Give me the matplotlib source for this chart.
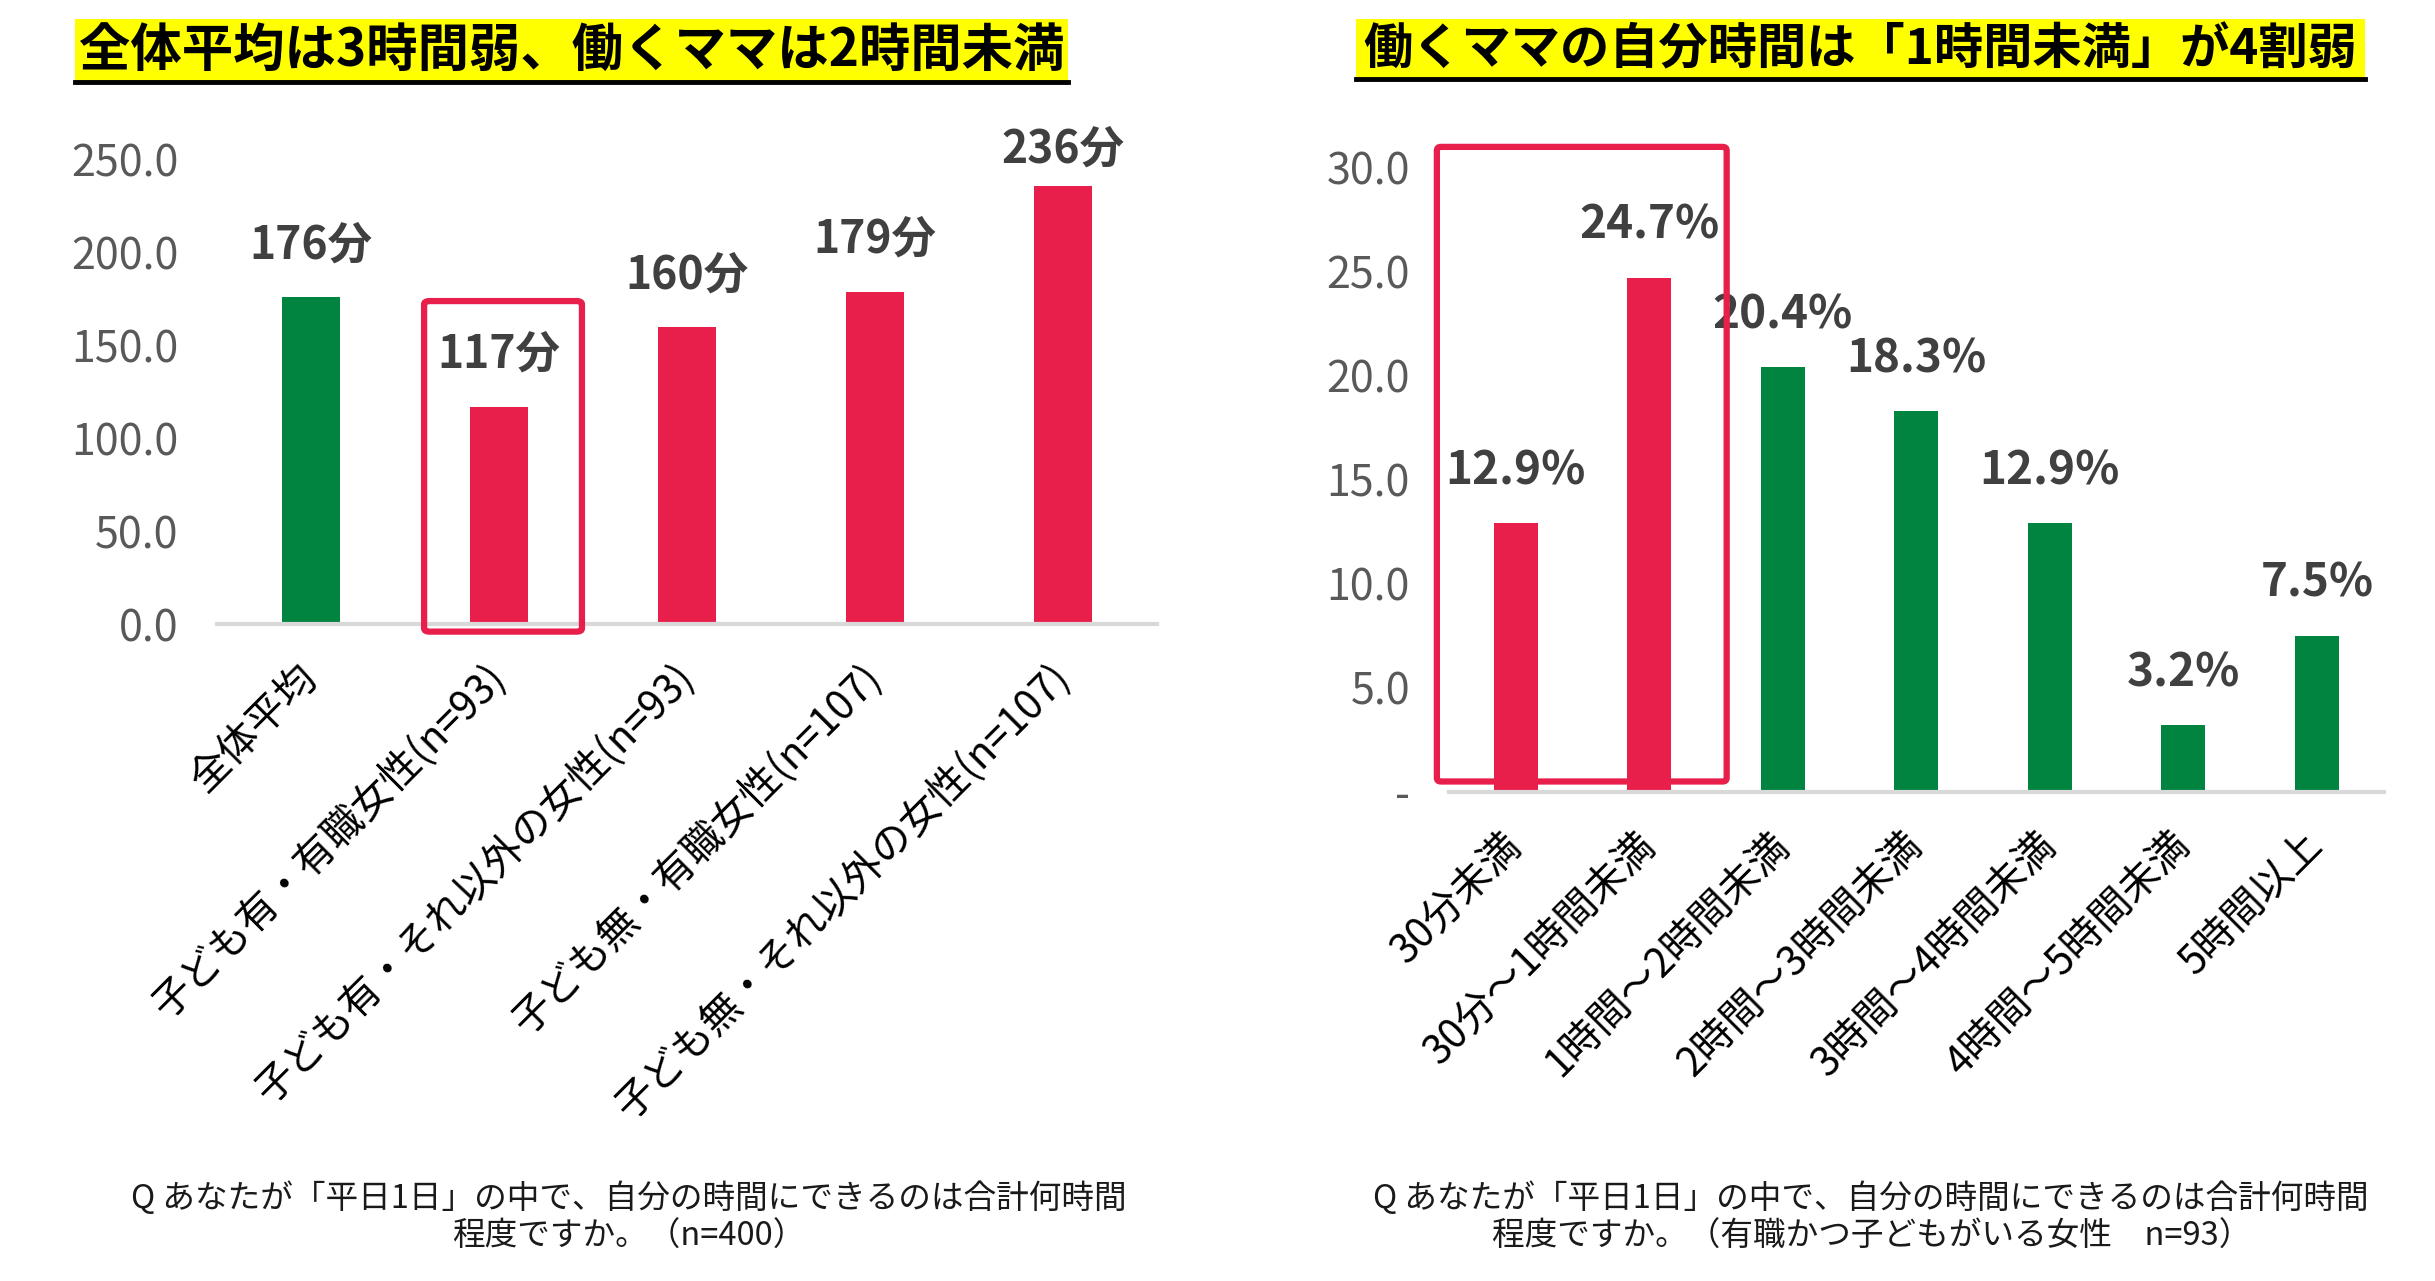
import matplotlib.pyplot as plt
from matplotlib.patches import FancyBboxPatch, Rectangle
import numpy as np

plt.rcParams['font.family'] = ['Noto Sans CJK JP', 'DejaVu Sans']

GREEN = '#00843F'
RED = '#E81E4B'

# 左グラフ: 平日1日の自分時間(分)
left_title = '全体平均は3時間弱、働くママは2時間未満'
left_labels = ['全体平均', '子ども有・有職女性(n=93)', '子ども有・それ以外の女性(n=93)',
               '子ども無・有職女性(n=107)', '子ども無・それ以外の女性(n=107)']
left_values = [176, 117, 160, 179, 236]
left_colors = [GREEN, RED, RED, RED, RED]
left_ticks = [0, 50, 100, 150, 200, 250]
left_note = 'Q あなたが「平日1日」の中で、自分の時間にできるのは合計何時間\n程度ですか。（n=400）'

# 右グラフ: 働くママの自分時間の分布(%)
right_title = '働くママの自分時間は「1時間未満」が4割弱'
right_labels = ['30分未満', '30分～1時間未満', '1時間～2時間未満', '2時間～3時間未満',
                '3時間～4時間未満', '4時間～5時間未満', '5時間以上']
right_values = [12.9, 24.7, 20.4, 18.3, 12.9, 3.2, 7.5]
right_colors = [RED, RED, GREEN, GREEN, GREEN, GREEN, GREEN]
right_ticks = [0, 5, 10, 15, 20, 25, 30]
right_note = 'Q あなたが「平日1日」の中で、自分の時間にできるのは合計何時間\n程度ですか。（有職かつ子どもがいる女性　n=93）'

fig = plt.figure(figsize=(24.35, 12.81), dpi=100)
fig.patch.set_facecolor('white')

# 縮小画像(1568x825)上の座標を図の割合に変換
def fx(x):
    return x / 1568

def fy(y):
    return 1 - y / 825


def style_axis(ax, ticks, ticklabels, labels):
    for s in ['top', 'right', 'left']:
        ax.spines[s].set_visible(False)
    ax.spines['bottom'].set_color('#D9D9D9')
    ax.spines['bottom'].set_linewidth(3)
    ax.set_yticks(ticks)
    ax.set_yticklabels(ticklabels, fontsize=31, color='#595959')
    ax.tick_params(axis='y', length=0, pad=28)
    ax.set_xticks(range(len(labels)))
    ax.set_xticklabels(labels, rotation=45, ha='right', va='center',
                       rotation_mode='anchor', fontsize=29, color='#000000')
    ax.tick_params(axis='x', length=0, pad=34)


def value_labels(ax, xs, values, fmt, fontsize, top_limit):
    # Excelと同じく、ラベルがプロット領域の上に出すぎないように抑える
    off = ax.transData.inverted().transform((0, 29))[1] - ax.transData.inverted().transform((0, 0))[1]
    for xi, v in zip(xs, values):
        ax.text(xi, min(v + off, top_limit), fmt(v), ha='center', va='bottom',
                fontsize=fontsize, fontweight='bold', color='#404040', clip_on=False)


def draw_title(text, x0, x1, y0, y1, size):
    fig.patches.append(Rectangle((fx(x0), fy(y1)), fx(x1) - fx(x0), fy(y0) - fy(y1),
                                 transform=fig.transFigure, facecolor='#FFFF00',
                                 edgecolor='none', zorder=0))
    fig.lines.append(plt.Line2D([fx(x0), fx(x1)], [fy(y1 + 1), fy(y1 + 1)],
                                transform=fig.transFigure, color='black', lw=3.5))
    fig.text(fx((x0 + x1) / 2), fy((y0 + y1) / 2 + 1), text, ha='center', va='center',
             fontsize=size, fontweight='bold', color='black')


# ---- 左グラフ ----
ax1 = fig.add_axes([fx(140), fy(402), fx(745) - fx(140), fy(103) - fy(402)])
x1 = np.arange(len(left_values))
ax1.bar(x1, left_values, width=0.31, color=left_colors, zorder=2)
ax1.set_xlim(-0.5, len(left_values) - 0.5)
ax1.set_ylim(0, 250)
style_axis(ax1, left_ticks, [f'{t:.1f}' for t in left_ticks], left_labels)
value_labels(ax1, x1, left_values, lambda v: f'{v}分', 32, 243)
ax1.add_patch(FancyBboxPatch((0.6, -4), 0.84, 178, boxstyle='round,pad=0,rounding_size=0.03',
                             fill=False, edgecolor=RED, lw=4.5, clip_on=False, zorder=3,
                             mutation_aspect=60))

# ---- 右グラフ ----
ax2 = fig.add_axes([fx(933), fy(510), fx(1535) - fx(933), fy(108) - fy(510)])
x2 = np.arange(len(right_values))
ax2.bar(x2, right_values, width=0.33, color=right_colors, zorder=2)
ax2.set_xlim(-0.5, len(right_values) - 0.5)
ax2.set_ylim(0, 30)
style_axis(ax2, right_ticks, ['-'] + [f'{t:.1f}' for t in right_ticks[1:]], right_labels)
value_labels(ax2, x2, right_values, lambda v: f'{v:.1f}%', 33, 29)
ax2.add_patch(FancyBboxPatch((-0.59, 0.5), 2.17, 30.5, boxstyle='round,pad=0,rounding_size=0.03',
                             fill=False, edgecolor=RED, lw=4.5, clip_on=False, zorder=3,
                             mutation_aspect=6))

# タイトル
draw_title(left_title, 48, 688, 12, 52, 37)
draw_title(right_title, 873, 1523, 12, 50, 35.5)

# 設問文
fig.text(fx(405), fy(784), left_note, ha='center', va='center', fontsize=23.5,
         color='#1A1A1A', linespacing=1.25, multialignment='center')
fig.text(fx(1205), fy(784), right_note, ha='center', va='center', fontsize=23.5,
         color='#1A1A1A', linespacing=1.25, multialignment='center')

fig.savefig('out.png', dpi=100)
